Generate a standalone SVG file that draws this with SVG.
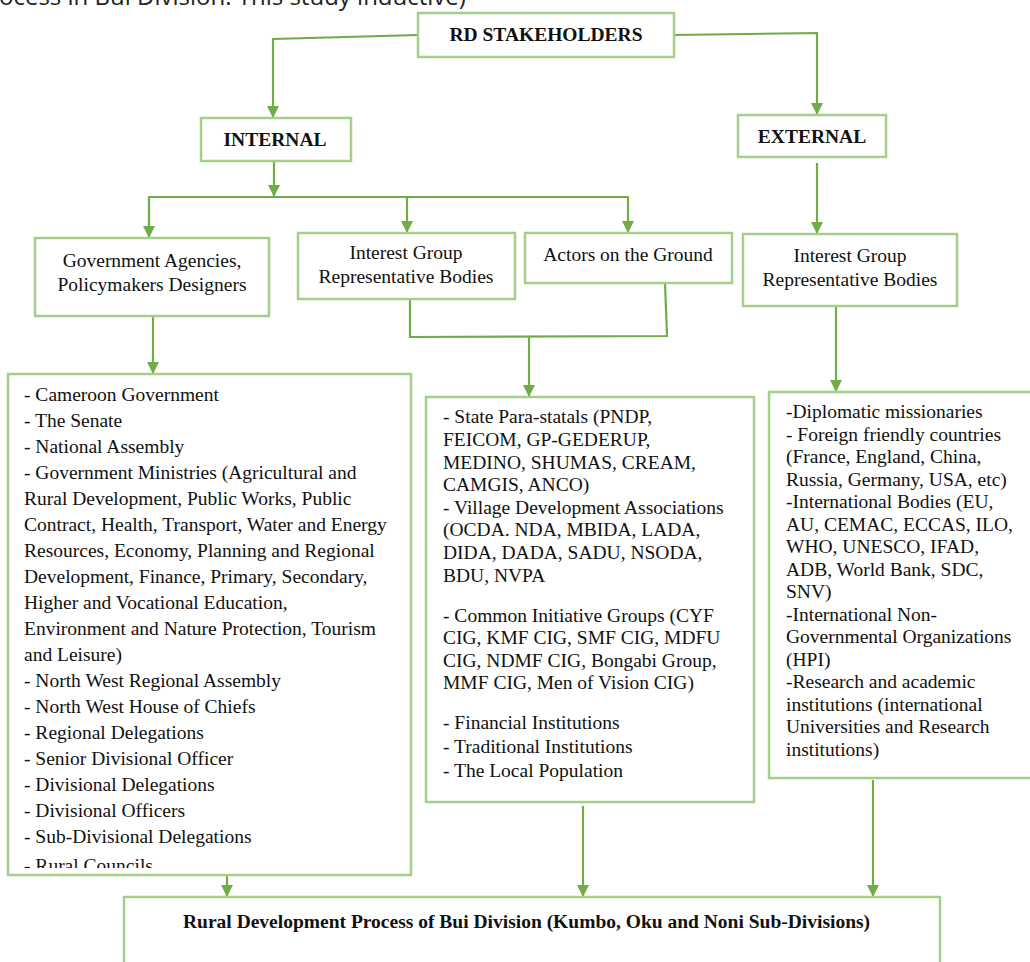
<svg xmlns="http://www.w3.org/2000/svg" width="1030" height="962" viewBox="0 0 1030 962">
<style>
.box{fill:#fff;stroke:#A3CF88;stroke-width:2.5}
.con{fill:none;stroke:#70AD47;stroke-width:2.2}
.t{font-family:"Liberation Serif","Times New Roman",serif;font-size:19.5px;fill:#111}
.b{font-weight:bold}
.c{text-anchor:middle}
.top{font-family:"Open Sans","Noto Sans",sans-serif;font-size:24px;fill:#222}
</style>
<defs>
<marker id="ah" markerUnits="userSpaceOnUse" markerWidth="12" markerHeight="12" refX="11" refY="6" orient="auto">
<path d="M0,0 L12,6 L0,12 z" fill="#70AD47"/>
</marker>
<clipPath id="clipL"><rect x="8" y="374" width="403" height="494"/></clipPath>
</defs>
<rect width="1030" height="962" fill="#fff"/>
<text class="top" x="-1" y="5">ocess in Bui Division. This study inductive)</text>

<g id="connectors">
<polyline class="con" points="418,35 273,39 273,117" marker-end="url(#ah)"/>
<polyline class="con" points="674,35 817,33 817,114" marker-end="url(#ah)"/>
<line class="con" x1="274" y1="161" x2="274" y2="196" marker-end="url(#ah)"/>
<line class="con" x1="148" y1="197" x2="629" y2="197"/>
<line class="con" x1="149" y1="197" x2="149" y2="237" marker-end="url(#ah)"/>
<line class="con" x1="407" y1="197" x2="407" y2="232" marker-end="url(#ah)"/>
<line class="con" x1="628" y1="197" x2="628" y2="232" marker-end="url(#ah)"/>
<line class="con" x1="817" y1="163" x2="817" y2="233" marker-end="url(#ah)"/>
<line class="con" x1="153" y1="316" x2="153" y2="373" marker-end="url(#ah)"/>
<polyline class="con" points="410,299 410,337 667,336 665,283"/>
<line class="con" x1="529" y1="337" x2="529" y2="396" marker-end="url(#ah)"/>
<line class="con" x1="836" y1="306" x2="836" y2="391" marker-end="url(#ah)"/>
<line class="con" x1="227" y1="875" x2="227" y2="896" marker-end="url(#ah)"/>
<line class="con" x1="583" y1="806" x2="583" y2="896" marker-end="url(#ah)"/>
<line class="con" x1="873" y1="780" x2="873" y2="896" marker-end="url(#ah)"/>
</g>

<g id="rd-stakeholders">
<rect class="box" x="418" y="13" width="256" height="44"/>
<text class="t b c" x="546" y="41">RD STAKEHOLDERS</text>
</g>

<g id="internal">
<rect class="box" x="201" y="118" width="150" height="43"/>
<text class="t b c" x="275" y="146">INTERNAL</text>
</g>

<g id="external">
<rect class="box" x="738" y="115" width="148" height="42"/>
<text class="t b c" x="812" y="143">EXTERNAL</text>
</g>

<g id="gov-agencies">
<rect class="box" x="35" y="238" width="234" height="78"/>
<text class="t c" x="152" y="267">Government Agencies,</text>
<text class="t c" x="152" y="291">Policymakers Designers</text>
</g>

<g id="interest-group-internal">
<rect class="box" x="298" y="233" width="217" height="66"/>
<text class="t c" x="406" y="259">Interest Group</text>
<text class="t c" x="406" y="283">Representative Bodies</text>
</g>

<g id="actors-ground">
<rect class="box" x="525" y="233" width="207" height="50"/>
<text class="t c" x="628" y="261">Actors on the Ground</text>
</g>

<g id="interest-group-external">
<rect class="box" x="743" y="234" width="214" height="72"/>
<text class="t c" x="850" y="262">Interest Group</text>
<text class="t c" x="850" y="286">Representative Bodies</text>
</g>

<g id="government-list">
<rect class="box" x="8" y="374" width="403" height="501"/>
<g clip-path="url(#clipL)">
<text class="t" x="24" y="401">- Cameroon Government</text>
<text class="t" x="24" y="427">- The Senate</text>
<text class="t" x="24" y="453">- National Assembly</text>
<text class="t" x="24" y="479">- Government Ministries (Agricultural and</text>
<text class="t" x="24" y="505">Rural Development, Public Works, Public</text>
<text class="t" x="24" y="531">Contract, Health, Transport, Water and Energy</text>
<text class="t" x="24" y="557">Resources, Economy, Planning and Regional</text>
<text class="t" x="24" y="583">Development, Finance, Primary, Secondary,</text>
<text class="t" x="24" y="609">Higher and Vocational Education,</text>
<text class="t" x="24" y="635">Environment and Nature Protection, Tourism</text>
<text class="t" x="24" y="661">and Leisure)</text>
<text class="t" x="24" y="687">- North West Regional Assembly</text>
<text class="t" x="24" y="713">- North West House of Chiefs</text>
<text class="t" x="24" y="739">- Regional Delegations</text>
<text class="t" x="24" y="765">- Senior Divisional Officer</text>
<text class="t" x="24" y="791">- Divisional Delegations</text>
<text class="t" x="24" y="817">- Divisional Officers</text>
<text class="t" x="24" y="843">- Sub-Divisional Delegations</text>
<text class="t" x="24" y="872">- Rural Councils</text>
</g>
</g>

<g id="actors-list">
<rect class="box" x="426" y="397" width="328" height="405"/>
<text class="t" x="443" y="423">- State Para-statals (PNDP,</text>
<text class="t" x="443" y="446">FEICOM, GP-GEDERUP,</text>
<text class="t" x="443" y="469">MEDINO, SHUMAS, CREAM,</text>
<text class="t" x="443" y="491">CAMGIS, ANCO)</text>
<text class="t" x="443" y="514">- Village Development Associations</text>
<text class="t" x="443" y="536">(OCDA. NDA, MBIDA, LADA,</text>
<text class="t" x="443" y="559">DIDA, DADA, SADU, NSODA,</text>
<text class="t" x="443" y="582">BDU, NVPA</text>
<text class="t" x="443" y="622">- Common Initiative Groups (CYF</text>
<text class="t" x="443" y="644">CIG, KMF CIG, SMF CIG, MDFU</text>
<text class="t" x="443" y="667">CIG, NDMF CIG, Bongabi Group,</text>
<text class="t" x="443" y="689">MMF CIG, Men of Vision CIG)</text>
<text class="t" x="443" y="729">- Financial Institutions</text>
<text class="t" x="443" y="753">- Traditional Institutions</text>
<text class="t" x="443" y="777">- The Local Population</text>
</g>

<g id="external-list">
<rect class="box" x="769" y="392" width="265" height="386"/>
<text class="t" x="786" y="418">-Diplomatic missionaries</text>
<text class="t" x="786" y="441">- Foreign friendly countries</text>
<text class="t" x="786" y="463">(France, England, China,</text>
<text class="t" x="786" y="486">Russia, Germany, USA, etc)</text>
<text class="t" x="786" y="508">-International Bodies (EU,</text>
<text class="t" x="786" y="531">AU, CEMAC, ECCAS, ILO,</text>
<text class="t" x="786" y="553">WHO, UNESCO, IFAD,</text>
<text class="t" x="786" y="576">ADB, World Bank, SDC,</text>
<text class="t" x="786" y="598">SNV)</text>
<text class="t" x="786" y="621">-International Non-</text>
<text class="t" x="786" y="643">Governmental Organizations</text>
<text class="t" x="786" y="666">(HPI)</text>
<text class="t" x="786" y="688">-Research and academic</text>
<text class="t" x="786" y="711">institutions (international</text>
<text class="t" x="786" y="733">Universities and Research</text>
<text class="t" x="786" y="756">institutions)</text>
</g>

<g id="rural-development-process">
<rect class="box" x="124" y="897" width="816" height="80"/>
<text class="t b" x="183" y="928">Rural Development Process of Bui Division (Kumbo, Oku and Noni Sub-Divisions)</text>
</g>
</svg>
